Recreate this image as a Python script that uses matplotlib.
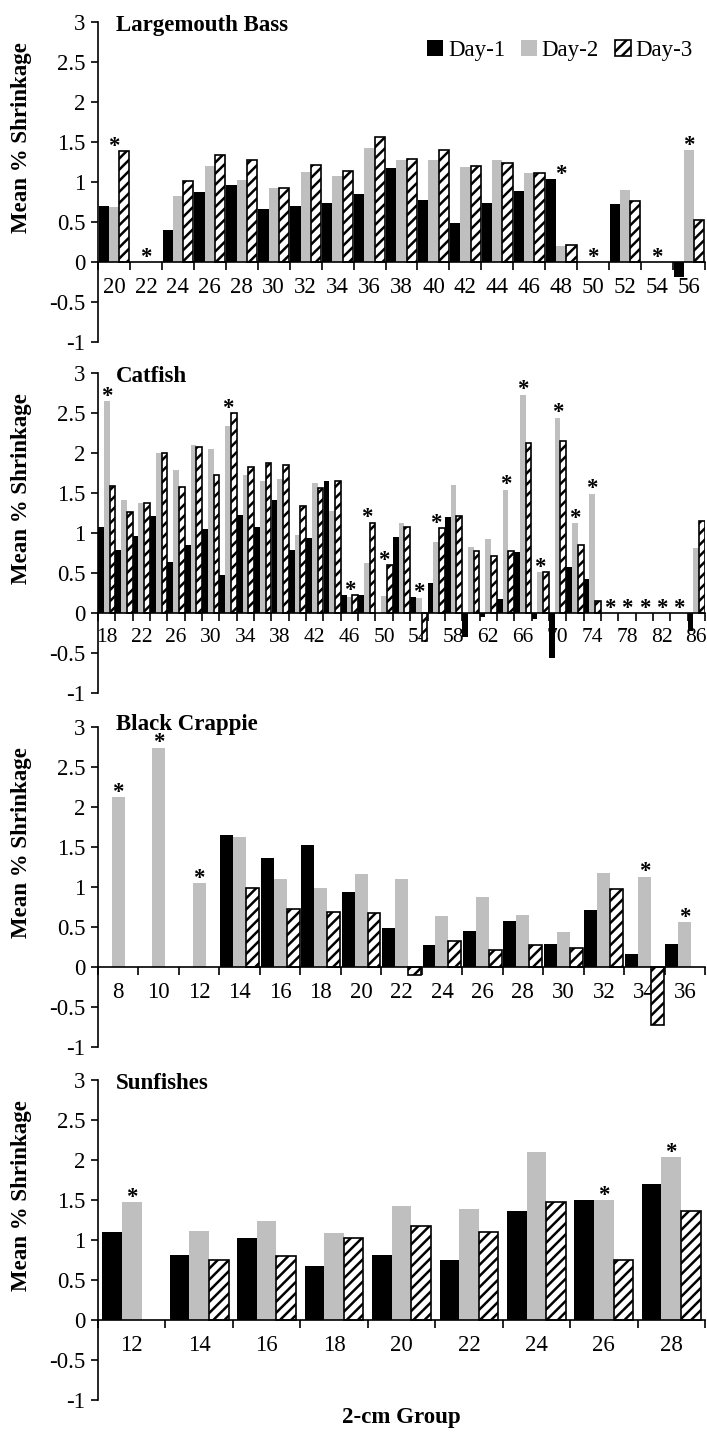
import numpy as np
import matplotlib
matplotlib.use("Agg")
import matplotlib.pyplot as plt
from matplotlib.patches import Patch
from matplotlib.ticker import FixedLocator, FuncFormatter, NullFormatter
from matplotlib.transforms import blended_transform_factory

plt.rcParams['font.family'] = ['Liberation Serif', 'DejaVu Serif']
plt.rcParams['axes.unicode_minus'] = False
plt.rcParams['hatch.linewidth'] = 1.8

nan = np.nan

# Largemouth Bass
lmb_groups = [20, 22, 24, 26, 28, 30, 32, 34, 36, 38, 40, 42, 44, 46, 48, 50, 52, 54, 56]
lmb_day1 = [0.70, nan, 0.40, 0.875, 0.96, 0.66, 0.70, 0.74, 0.855, 1.17, 0.78, 0.49, 0.74, 0.89, 1.04, nan, 0.72, nan, -0.19]
lmb_day2 = [0.69, nan, 0.83, 1.20, 1.03, 0.925, 1.13, 1.08, 1.43, 1.27, 1.28, 1.19, 1.28, 1.11, 0.20, nan, 0.90, nan, 1.40]
lmb_day3 = [1.39, nan, 1.01, 1.34, 1.28, 0.93, 1.21, 1.14, 1.56, 1.29, 1.40, 1.20, 1.24, 1.11, 0.21, nan, 0.76, nan, 0.53]
lmb_stars = [20, 22, 48, 50, 54, 56]

# Catfish
cf_groups = [18, 20, 22, 24, 26, 28, 30, 32, 34, 36, 38, 40, 42, 44, 46, 48, 50, 52,
             54, 56, 58, 60, 62, 64, 66, 68, 70, 72, 74, 76, 78, 80, 82, 84, 86]
cf_day1 = [1.07, 0.79, 0.96, 1.21, 0.64, 0.85, 1.05, 0.48, 1.23, 1.07, 1.41, 0.79, 0.94, 1.65, 0.22, 0.22, nan, 0.95,
           0.20, 0.37, 1.20, -0.30, -0.05, 0.17, 0.76, -0.07, -0.56, 0.57, 0.42, nan, nan, nan, nan, nan, -0.23]
cf_day2 = [2.65, 1.41, 1.38, 2.00, 1.79, 2.10, 2.05, 2.34, 1.73, 1.65, 1.68, 0.98, 1.63, 1.28, 0.20, 0.63, 0.21, 1.13,
           0.19, 0.89, 1.60, 0.83, 0.92, 1.54, 2.73, 0.51, 2.44, 1.12, 1.49, nan, nan, nan, nan, nan, 0.81]
cf_day3 = [1.59, 1.26, 1.38, 2.00, 1.58, 2.07, 1.72, 2.50, 1.83, 1.88, 1.85, 1.34, 1.56, 1.65, 0.22, 1.13, 0.60, 1.07,
           -0.35, 1.06, 1.21, 0.78, 0.71, 0.78, 2.13, 0.51, 2.15, 0.85, 0.15, nan, nan, nan, nan, nan, 1.15]
cf_stars = [18, 32, 46, 48, 50, 54, 56, 64, 66, 68, 70, 72, 74, 76, 78, 80, 82, 84]
cf_labels = [18, 22, 26, 30, 34, 38, 42, 46, 50, 54, 58, 62, 66, 70, 74, 78, 82, 86]

# Black Crappie
bc_groups = [8, 10, 12, 14, 16, 18, 20, 22, 24, 26, 28, 30, 32, 34, 36]
bc_day1 = [nan, nan, nan, 1.65, 1.36, 1.53, 0.94, 0.49, 0.28, 0.45, 0.57, 0.29, 0.71, 0.16, 0.29]
bc_day2 = [2.125, 2.74, 1.05, 1.62, 1.10, 0.99, 1.16, 1.10, 0.64, 0.875, 0.65, 0.44, 1.175, 1.13, 0.56]
bc_day3 = [nan, nan, nan, 0.99, 0.72, 0.69, 0.68, -0.10, 0.32, 0.21, 0.27, 0.24, 0.97, -0.73, nan]
bc_stars = [8, 10, 12, 34, 36]

# Sunfishes
sf_groups = [12, 14, 16, 18, 20, 22, 24, 26, 28]
sf_day1 = [1.10, 0.81, 1.02, 0.68, 0.81, 0.745, 1.36, 1.495, 1.70]
sf_day2 = [1.47, 1.11, 1.24, 1.09, 1.425, 1.39, 2.10, 1.495, 2.04]
sf_day3 = [nan, 0.745, 0.795, 1.02, 1.17, 1.10, 1.47, 0.75, 1.36]
sf_stars = [12, 26, 28]

GRAY = '#bfbfbf'
W, H = 707, 1433
FS = 16.5


def panel(top_px, title, groups, d1, d2, d3, stars, labels=None, bw=0.32, lfs=FS, title_y=2.96):
    ax = fig.add_axes([98 / W, 1 - (top_px + 320) / H, 607 / W, 320 / H])
    n = len(groups)
    xs = np.arange(n)
    styles = [dict(color='black'), dict(color=GRAY),
              dict(facecolor='white', edgecolor='black', hatch='///', linewidth=1.2)]
    for j, (vals, st) in enumerate(zip([d1, d2, d3], styles)):
        vals = np.array(vals, dtype=float)
        ok = ~np.isnan(vals)
        ax.bar(xs[ok] + (j - 1) * bw, vals[ok], width=bw, zorder=3, **st)
    for g in stars:
        i = groups.index(g)
        top = np.nanmax([d1[i], d2[i], d3[i], 0.0])
        ax.text(i, top + 0.06, '*', ha='center', va='center', fontsize=FS,
                fontweight='bold', zorder=5)

    ax.set_xlim(-0.5, n - 0.5)
    ax.set_ylim(-1, 3)
    for s in ['top', 'right']:
        ax.spines[s].set_visible(False)
    ax.spines['bottom'].set_position(('data', 0))
    ax.spines['bottom'].set_zorder(4)
    ax.spines['left'].set_linewidth(1.2)
    ax.spines['bottom'].set_linewidth(1.2)

    ax.xaxis.set_major_locator(FixedLocator(np.arange(n + 1) - 0.5))
    ax.xaxis.set_major_formatter(NullFormatter())
    if labels is None:
        labels = groups
    ax.xaxis.set_minor_locator(FixedLocator([groups.index(g) for g in labels]))
    ax.xaxis.set_minor_formatter(FuncFormatter(lambda v, p: str(groups[int(round(v))])))
    ax.tick_params(axis='x', which='major', direction='out', length=6, width=1.2)
    ax.tick_params(axis='x', which='minor', length=0, pad=11, labelsize=lfs)

    ax.set_yticks(np.arange(-1, 3.01, 0.5))
    ax.yaxis.set_major_formatter(FuncFormatter(lambda v, p: '%g' % v))
    ax.tick_params(axis='y', direction='out', length=5, width=1.2, labelsize=FS, pad=4)

    ax.text(0.03, title_y, title, transform=ax.get_yaxis_transform(), ha='left', va='center',
            fontsize=FS, fontweight='bold')
    fig.text(22 / W, 1.55, 'Mean % Shrinkage', rotation=90, ha='center', va='center',
             fontsize=FS, fontweight='bold',
             transform=blended_transform_factory(fig.transFigure, ax.transData))
    return ax


fig = plt.figure(figsize=(W / 100, H / 100), dpi=100)

ax1 = panel(22, 'Largemouth Bass', lmb_groups, lmb_day1, lmb_day2, lmb_day3, lmb_stars)
panel(373, 'Catfish', cf_groups, cf_day1, cf_day2, cf_day3, cf_stars, labels=cf_labels, bw=0.33, lfs=15.5)
panel(727, 'Black Crappie', bc_groups, bc_day1, bc_day2, bc_day3, bc_stars, title_y=3.03)
panel(1080, 'Sunfishes', sf_groups, sf_day1, sf_day2, sf_day3, sf_stars, bw=0.29)

handles = [Patch(facecolor='black'), Patch(facecolor=GRAY),
           Patch(facecolor='white', edgecolor='black', hatch='///', linewidth=1.2)]
ax1.legend(handles, ['Day-1', 'Day-2', 'Day-3'], loc='center right', bbox_to_anchor=(0.995, 0.912),
           ncol=3, frameon=False, fontsize=FS, handlelength=0.7, handleheight=0.7,
           handletextpad=0.2, columnspacing=0.7, borderaxespad=0)

fig.text(401 / W, 1 - 1418 / H, '2-cm Group', ha='center', va='center', fontsize=FS, fontweight='bold')

fig.savefig('out.png', dpi=100)
